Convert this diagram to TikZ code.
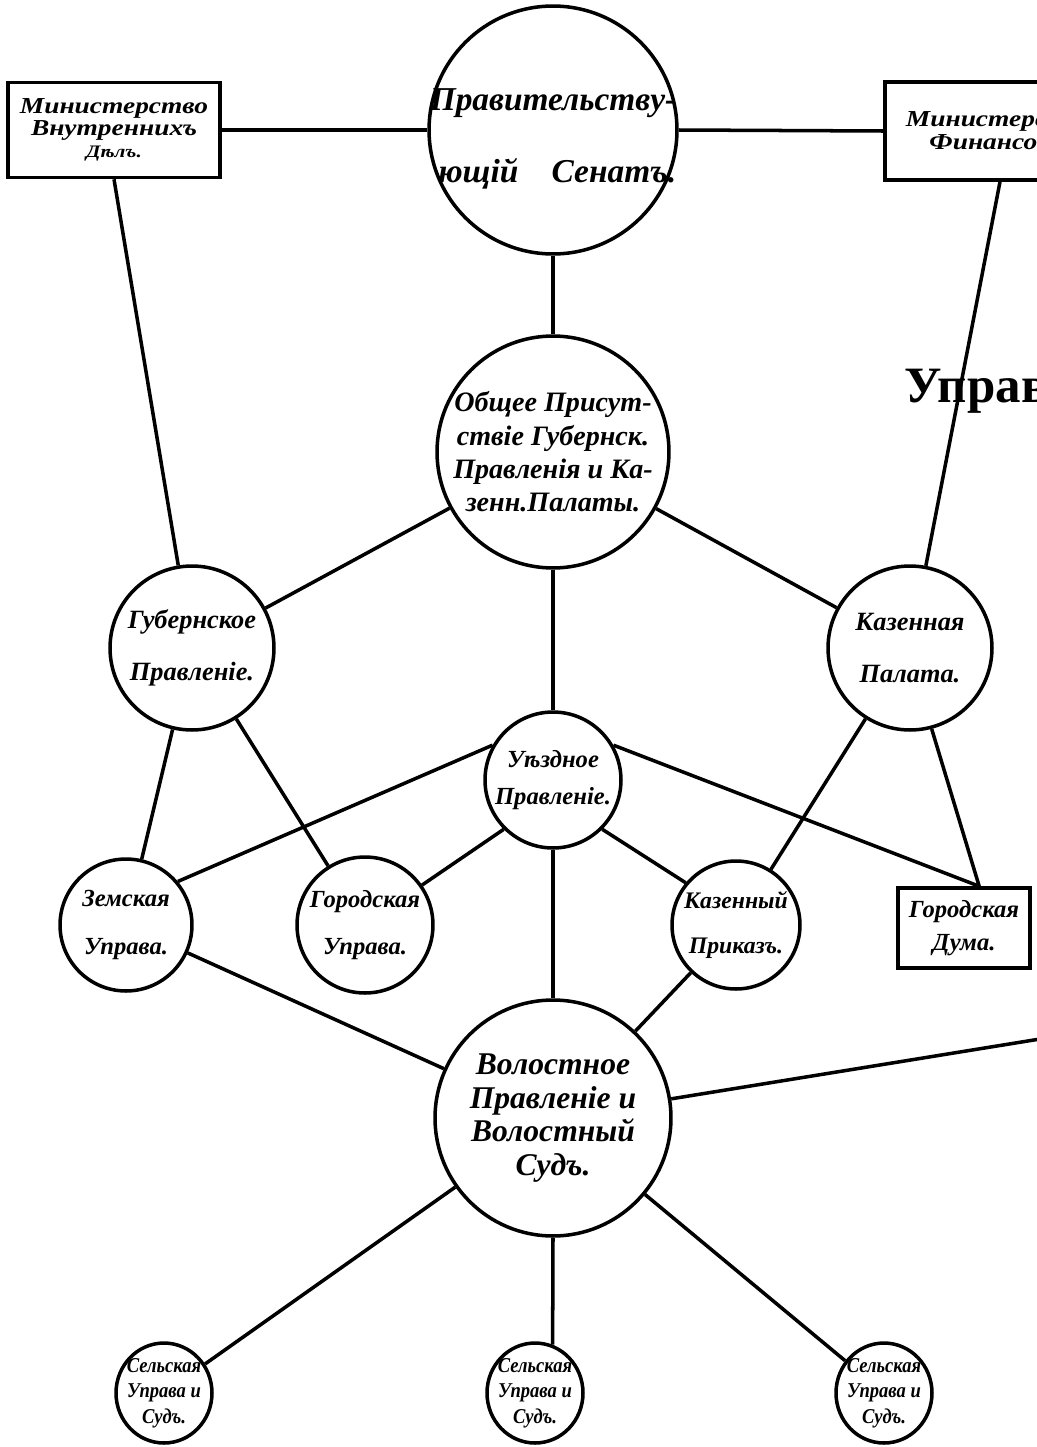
\documentclass[tikz,border=0pt]{standalone}
\usepackage{fontspec}
\setmainfont{Liberation Serif}
\newfontfamily\widefont[FakeStretch=1.2]{Liberation Serif}
\newfontfamily\narrowfont[FakeStretch=0.88]{Liberation Serif}
\usetikzlibrary{shapes.geometric}

\begin{document}
\begin{tikzpicture}[x=0.02cm,y=-0.02cm,line width=2pt,
  bub/.style={circle,draw,inner sep=0pt,minimum size=#1},
  sel/.style={ellipse,draw,inner sep=0pt,minimum width=1.92cm,minimum height=2cm},
  box/.style={rectangle,draw,inner sep=0pt},
  lbl/.style={align=center,inner sep=0pt},
  fz/.style 2 args={font=\bfseries\itshape\fontsize{#1}{#2}\selectfont}]
  \useasboundingbox (0,0) rectangle (1036,1447);

  \node[box,minimum width=4.24cm,minimum height=1.9cm] (minInt) at (114,130) {};
  \node[lbl,font=\widefont\bfseries\itshape\fontsize{13}{12.5}\selectfont] (minIntT) at (minInt)
    {Министерство\\Внутреннихъ\\{\fontsize{10}{12.5}\selectfont Дѣлъ.}};
  \node[bub=4.96cm] (senate) at (553,130) {};
  \node[lbl,align=right,fz={19}{41},yshift=-0.18cm] (senateT) at (senate) {Правительству-\\ющій\quad Сенатъ.};
  \node[box,minimum width=4.6cm,minimum height=1.96cm] (minFin) at (1000,131) {};
  \node[lbl,font=\widefont\bfseries\itshape\fontsize{13}{13}\selectfont] (minFinT) at (minFin)
    {Министерство\\Финансовъ.};

  \node[anchor=base west,inner sep=0pt,font=\bfseries\fontsize{29}{30}\selectfont] (uprav) at (903,402) {Управ};

  \node[bub=4.64cm] (obsh) at (553,452) {};
  \node[lbl,fz={16}{19}] (obshT) at (obsh) {Общее Присут-\\ствіе Губернск.\\Правленія и Ка-\\зенн.Палаты.};

  \node[bub=3.28cm] (gubPrav) at (192,648) {};
  \node[lbl,fz={15}{30}] (gubPravT) at (gubPrav) {Губернское\\Правленіе.};
  \node[bub=3.28cm] (kazPal) at (910,648) {};
  \node[lbl,fz={15}{30}] (kazPalT) at (kazPal) {Казенная\\Палата.};

  \node[bub=2.72cm] (uezd) at (553,780) {};
  \node[lbl,fz={14}{21}] (uezdT) at (uezd) {Уѣздное\\Правленіе.};

  \node[bub=2.64cm] (zemUpr) at (126,925) {};
  \node[lbl,fz={14}{27}] (zemUprT) at (zemUpr) {Земская\\Управа.};
  \node[bub=2.72cm] (gorUpr) at (365,925) {};
  \node[lbl,fz={14}{27}] (gorUprT) at (gorUpr) {Городская\\Управа.};
  \node[bub=2.56cm] (kazPrik) at (736,925) {};
  \node[lbl,fz={13.5}{26}] (kazPrikT) at (kazPrik) {Казенный\\Приказъ.};
  \node[box,minimum width=2.64cm,minimum height=1.6cm] (gorDuma) at (964,928) {};
  \node[lbl,fz={14}{19}] (gorDumaT) at (gorDuma) {Городская\\Дума.};

  \node[bub=4.72cm] (volost) at (553,1118) {};
  \node[lbl,fz={18}{19}] (volostT) at (volost) {Волостное\\Правленіе и\\Волостный\\Судъ.};
  \coordinate (offRight) at (1040,1039);

  \node[sel] (selLeft) at (164,1393) {};
  \node[lbl,font=\narrowfont\bfseries\itshape\fontsize{12}{14.5}\selectfont] (selLeftT) at (selLeft) {Сельская\\Управа и\\Судъ.};
  \node[sel] (selMid) at (535,1393) {};
  \node[lbl,font=\narrowfont\bfseries\itshape\fontsize{12}{14.5}\selectfont] (selMidT) at (selMid) {Сельская\\Управа и\\Судъ.};
  \node[sel] (selRight) at (884,1393) {};
  \node[lbl,font=\narrowfont\bfseries\itshape\fontsize{12}{14.5}\selectfont] (selRightT) at (selRight) {Сельская\\Управа и\\Судъ.};

  \draw (minInt.east) -- (senate.west);
  \draw (senate.east) -- (minFin.west);
  \draw (senate.south) -- (obsh.north);
  \draw (minInt.south) -- (gubPrav);
  \draw (minFin.south) -- (kazPal);
  \draw (obsh) -- (gubPrav);
  \draw (obsh) -- (kazPal);
  \draw (obsh.south) -- (uezd.north);

  \draw (gubPrav) -- (zemUpr);
  \draw (gubPrav) -- (gorUpr);
  \draw (kazPal) -- (kazPrik);
  \draw (kazPal.-75) -- (gorDuma.70);
  \draw (uezd.150) -- (zemUpr.40);
  \draw (uezd.30) -- (gorDuma.70);
  \draw (uezd.225) -- (gorUpr.35);
  \draw (uezd.-45) -- (kazPrik.140);
  \draw (uezd.south) -- (volost.north);

  \draw (zemUpr) -- (volost);
  \draw (kazPrik) -- (volost);
  \draw (volost) -- (offRight);
  \draw (volost) -- (selLeft);
  \draw (volost.south) -- (selMid.70);
  \draw (volost) -- (selRight);
\end{tikzpicture}
\end{document}
